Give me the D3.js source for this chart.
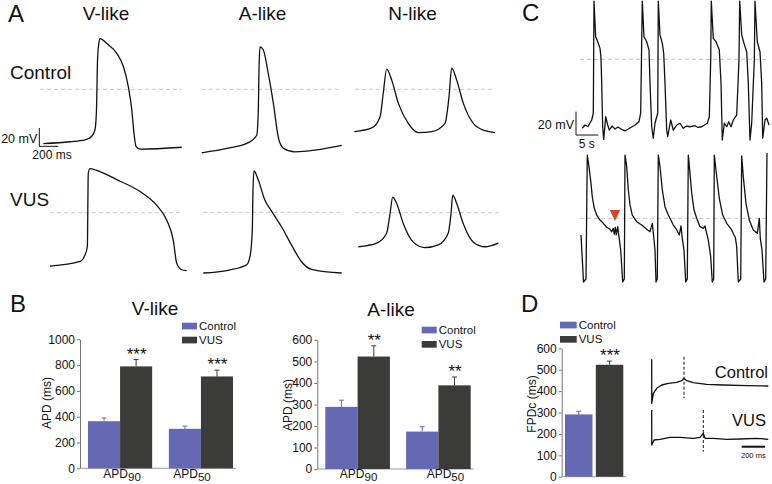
<!DOCTYPE html>
<html><head><meta charset="utf-8">
<script src="https://cdn.jsdelivr.net/npm/d3@7"></script>
<style>body{margin:0;background:#fff}svg{display:block}text{font-family:"Liberation Sans",Arial,Helvetica,sans-serif;fill:#111}</style>
</head><body><svg id="c" width="772" height="484"></svg>
<script>
// ---------------- DATA ----------------
// Panel A action potentials: [time (ms), membrane potential (mV)]
const vLikeControl = [[0,-59],[280,-57],[440,-55],[510,-51],[544,-44],[560,-22],[571,32],[586,51],[597,55],[667,50],[773,39],[842,25],[895,3],[931,-22],[955,-48],[976,-62],[1018,-65],[1457,-63]];
const vLikeVUS = [[0,-58],[316,-53],[368,-46],[393,-37],[403,43],[421,48],[492,46],[702,36],[947,23],[1123,8],[1228,-8],[1298,-30],[1334,-55],[1386,-62],[1439,-63]];
const aLikeControl = [[0,-69],[280,-64],[491,-58],[579,-50],[596,-23],[603,21],[614,46],[648,43],[701,17],[754,-15],[806,-52],[859,-64],[982,-68],[1474,-61]];
const aLikeVUS = [[0,-66],[263,-63],[457,-57],[492,-48],[516,-19],[523,24],[534,45],[579,35],[649,13],[720,1],[825,-16],[931,-36],[1036,-54],[1141,-62],[1457,-66]];
const nLikeControl = [[0,-46],[183,-42],[271,-30],[305,-4],[341,22],[394,10],[463,-15],[568,-37],[674,-47],[815,-46],[955,-37],[997,-8],[1025,23],[1078,10],[1147,-15],[1253,-37],[1376,-45],[1481,-47]];
const nLikeVUS = [[0,-37],[194,-33],[299,-22],[334,-1],[362,17],[404,10],[474,-12],[579,-32],[702,-38],[842,-35],[947,-22],[976,-1],[994,19],[1036,10],[1105,-12],[1211,-32],[1334,-37],[1474,-33]];
const apColumns = ["V-like","A-like","N-like"];
const apRows = ["Control","VUS"];

// Panel C spontaneous activity: [time (s), mV]
const cControl = [[0,-59.2],[0.61,-56.4],[1.28,-57.7],[2.11,-52.1],[2.47,-46.1],[2.62,50],[3.0,19.4],[3.59,13.7],[3.97,9.4],[4.19,1.1],[4.35,-20.3],[4.57,-57.9],[4.8,-68.7],[5.25,-49.3],[5.7,-56.4],[6.05,-60.7],[6.66,-57.3],[7.33,-59.8],[8.0,-58.1],[8.68,-59.8],[9.57,-61.5],[10.7,-59],[11.82,-56.4],[12.71,-53.6],[13.09,-46.1],[13.45,50],[13.83,19.4],[14.44,15.1],[14.96,8],[15.18,-20.3],[15.56,-57.9],[15.92,-67.8],[16.3,-54.9],[16.91,-46.1],[17.04,50],[17.42,20.9],[17.94,13.7],[18.25,5.2],[18.54,-20.3],[18.92,-60.7],[19.15,-66.4],[19.82,-52.1],[20.4,-60.7],[21.17,-56.4],[21.91,-54.9],[22.65,-59.2],[23.36,-57.3],[24.15,-57.9],[25.27,-57],[25.94,-58.5],[26.77,-57.9],[28.03,-54.9],[28.48,-49.3],[28.79,-0.6],[28.92,50],[29.37,18],[29.98,15.1],[30.72,8],[31.1,-20.3],[31.39,-69.3],[31.84,-54.9],[32.38,-57.9],[32.83,-53.6],[33.34,-57.9],[33.86,-52.1],[34.62,-47.8],[35.13,-0.6],[35.29,50],[35.74,20.9],[36.26,13.7],[36.86,6.5],[37.22,-20.3],[37.6,-69.3],[37.98,-54.9],[38.57,-0.6],[38.72,50],[39.24,15.1],[39.84,6.5],[40.22,-20.3],[40.45,-67.8],[40.96,-52.1],[41.35,-50.6],[41.87,-56.4]];
const cVUS = [[0,-14.3],[0.56,-54.7],[1.12,-52.1],[1.41,54.3],[1.79,44.3],[2.24,30],[2.53,18.5],[2.98,8.6],[3.52,2.8],[4.26,-1.5],[5.0,-4.3],[5.76,-7.7],[6.5,-9.4],[6.88,-11.5],[7.24,-8.6],[7.47,-13.7],[7.69,-7.7],[7.91,-14.3],[8.23,-7.2],[8.52,-15.8],[8.9,-27.2],[9.13,-41.5],[9.35,-54.7],[9.71,-52.1],[9.87,54.3],[10.25,44.3],[10.61,24.3],[10.99,11.4],[11.5,2.8],[12.49,-2.9],[13.61,-5.8],[14.73,-9.4],[15.47,-11.5],[15.99,-4.3],[16.3,-15.8],[16.59,-27.2],[16.82,-54.7],[17.11,-52.1],[17.33,54.3],[17.71,44.3],[18.23,24.3],[18.83,10],[19.57,2.8],[20.7,-5.8],[21.46,-10],[22.04,-14.3],[22.42,-6.6],[22.71,-17.2],[23.09,-27.2],[23.48,-54.7],[23.83,-52.1],[24.06,54.3],[24.44,38.6],[24.82,21.5],[25.34,7.1],[25.94,0],[26.68,-7.2],[27.42,-8.6],[27.8,-6.6],[28.18,-12.9],[28.54,-18.6],[29.08,-33],[29.44,-54.7],[29.75,-52.1],[29.89,54.3],[30.43,35.7],[31.01,17.2],[31.77,2.8],[32.67,-4.3],[33.79,-10],[34.3,-14.3],[34.6,-16.3],[34.91,-24.4],[35.27,-54.7],[35.81,-52.1],[36.03,53.5],[36.39,35.7],[36.99,12.9],[37.74,-1.5],[38.63,-10],[39.53,-12.9],[39.98,0],[40.2,-17.2],[40.58,-27.2],[41.03,-54.7],[41.41,-52.1],[41.7,56.1]];
const cArrow = [7.62, -2.3];   // red arrowhead (s, mV)

// Panel B bar data
const apdCats = ["APD90","APD50"];
const groups = ["Control","VUS"];
const vLikeMeans = {Control:[365,306], VUS:[790,712]};
const vLikeSEM   = {Control:[25,21],  VUS:[53,49]};
const vLikeStars = ["***","***"];
const aLikeMeans = {Control:[289,174], VUS:[523,389]};
const aLikeSEM   = {Control:[31,23],  VUS:[50,39]};
const aLikeStars = ["**","**"];
const vTicks = [0,200,400,600,800,1000];
const aTicks = [0,100,200,300,400,500,600];

// Panel D
const fpdcMeans = {Control:291, VUS:523};
const fpdcSEM   = {Control:15, VUS:17};
const fpdcStars = "***";
const dTicks = [0,100,200,300,400,500,600];
// field potentials: [time (ms), amplitude (a.u.)]
const fpControl = [[0,26.7],[0.5,-17.3],[14,-7.3],[43,-2.3],[86,1],[142,2.7],[214,3.7],[257,5.3],[277,7.7],[300,5.3],[356,3.3],[471,1.7],[614,1],[814,0.3],[999,0]];
const fpVUS = [[0,28.5],[0.5,-6.5],[20,-1.5],[71,-0.8],[157,1.2],[243,1.2],[356,0.2],[414,1.2],[442,5.2],[457,0.2],[528,0.2],[643,-0.8],[757,-0.5],[900,0.2],[999,-0.8]];
const fpdMarks = {Control:277, VUS:442};

// ---------------- DRAW ----------------
const svg = d3.select("#c");
const CTRL = "#6569b3", VUSC = "#3b3b39";

function txt(x, y, s, size, anchor, g){
  return (g||svg).append("text").attr("x",x).attr("y",y).attr("font-size",size)
    .attr("text-anchor",anchor||"start").text(s);
}
function scalesFor(x0, y0, kx, ky){
  return {x: d3.scaleLinear().domain([0,1]).range([x0, x0+kx]),
          y: d3.scaleLinear().domain([0,1]).range([y0, y0-ky])};
}
function drawTrace(data, sc, curve, dash, dashCol){
  if (dash) {
    svg.append("line").attr("x1",sc.x(dash[0])).attr("x2",sc.x(dash[1]))
      .attr("y1",sc.y(0)).attr("y2",sc.y(0))
      .attr("stroke",dashCol||"#c9c9c9").attr("stroke-width",1).attr("stroke-dasharray","4,3");
  }
  svg.append("path").datum(data)
    .attr("d", d3.line().x(d=>sc.x(d[0])).y(d=>sc.y(d[1])).curve(curve))
    .attr("fill","none").attr("stroke","#111").attr("stroke-width",1.3).attr("stroke-linejoin","round");
}

// Panel letters
[["A",8,22],["B",10,312],["C",522,21],["D",521,312]].forEach(d=>txt(d[1],d[2],d[0],24));

// ---- Panel A ----
const kxA = 0.095, kyA = 0.92;
const apTraces = [
  {d:vLikeControl, x0:43.3, y0:89.3, dash:[-35,1457]},
  {d:aLikeControl, x0:201.7, y0:89.3, dash:[0,1474]},
  {d:nLikeControl, x0:354.3, y0:89.3, dash:[7,1463]},
  {d:vLikeVUS, x0:50, y0:212.7, dash:[0,1386]},
  {d:aLikeVUS, x0:203.3, y0:212.3, dash:[0,1474]},
  {d:nLikeVUS, x0:358.3, y0:212.7, dash:[-35,1474]}
];
let vCtrlScale;
apTraces.forEach((t,i)=>{
  const sc = scalesFor(t.x0, t.y0, kxA, kyA);
  if (i===0) vCtrlScale = sc;
  drawTrace(t.d, sc, d3.curveMonotoneX, t.dash);
});
[106,262.5,412.5].forEach((x,i)=>txt(x,20,apColumns[i],19,"middle"));
txt(10,79,apRows[0],19); txt(10,205.7,apRows[1],19);
// scale bar 20 mV / 200 ms
{
  const s = vCtrlScale, tx=-42, vy=-62;
  svg.append("path").attr("d",`M${s.x(tx)},${s.y(vy+20)}V${s.y(vy)}H${s.x(tx+200)}`)
    .attr("fill","none").attr("stroke","#111").attr("stroke-width",1);
  txt(s.x(tx)-2, s.y(vy)-3, "20 mV", 12.5, "end");
  txt(s.x(tx)-7, s.y(vy)+12.7, "200 ms", 12);
}

// ---- Panel C ----
const kxC = 4.46, kyC = 1.165;
const scTop = scalesFor(582.3, 59.3, kxC, kyC);
const scBot = scalesFor(581, 218.3, kxC, kyC);
drawTrace(cControl, scTop, d3.curveLinear, [-0.5,41.7], "#c4c4c4");
drawTrace(cVUS, scBot, d3.curveLinear, [-0.2,41.9], "#c4c4c4");
{
  const tx=-1.41, vy=-65;
  svg.append("path").attr("d",`M${scTop.x(tx)},${scTop.y(vy+20)}V${scTop.y(vy)}H${scTop.x(tx+5)}`)
    .attr("fill","none").attr("stroke","#111").attr("stroke-width",1);
  txt(scTop.x(tx)-2, scTop.y(vy)-6.5, "20 mV", 12.5, "end");
  txt(scTop.x(tx+2.4), scTop.y(vy)+13.3, "5 s", 12, "middle");
  const ax = scBot.x(cArrow[0]), ay = scBot.y(cArrow[1]);
  svg.append("path").attr("d",`M${ax},${ay}L${ax-5.2},${ay-11}L${ax+5.2},${ay-11}Z`).attr("fill","#d8432c");
}

// ---- Bar charts ----
function barChart(o){
  const g = svg.append("g");
  const y = d3.scaleLinear().domain([0,o.ticks[o.ticks.length-1]]).range(o.yRange);
  const x0 = d3.scaleBand().domain(o.cats).range(o.xRange).paddingInner(o.padInner).paddingOuter(0);
  const x1 = d3.scaleBand().domain(groups).range([0,x0.bandwidth()]).paddingInner(o.padSeries||0);
  const ax = g.append("g").attr("transform",`translate(${o.axisX},0)`)
    .call(d3.axisLeft(y).tickValues(o.ticks).tickFormat(d3.format("d")).tickSize(3).tickSizeOuter(0).tickPadding(2));
  ax.select(".domain").attr("stroke","#777");
  ax.selectAll(".tick line").attr("stroke","#777");
  ax.selectAll(".tick text").attr("font-size",12).attr("fill","#222")
    .attr("font-family",'"Liberation Sans",Arial,sans-serif');
  g.append("line").attr("x1",o.axisX).attr("x2",o.xRange[1]+3).attr("y1",y(0)).attr("y2",y(0))
    .attr("stroke","#999").attr("stroke-width",1);
  o.cats.forEach((c,ci)=>{
    groups.forEach(s=>{
      const m = o.means[s][ci], e = o.sem[s][ci];
      const bx = x0(c)+x1(s), bw = x1.bandwidth();
      const col = s==="Control"?CTRL:VUSC;
      g.append("rect").attr("x",bx).attr("y",y(m)).attr("width",bw).attr("height",y(0)-y(m)).attr("fill",col);
      const cx = bx+bw/2;
      g.append("path").attr("d",`M${cx},${y(m)}V${y(m+e)}M${cx-2.5},${y(m+e)}H${cx+2.5}`)
        .attr("stroke",col).attr("stroke-width",1).attr("fill","none");
      if (s==="VUS" && o.stars) txt(cx+0.5, y(m+e), o.stars[ci], 17, "middle", g);
    });
    if (o.catLabel) {
      const t = g.append("text").attr("x",x0(c)+x0.bandwidth()/2+(o.labelDx?o.labelDx[ci]:0))
        .attr("y",o.labelY).attr("font-size",12).attr("text-anchor","middle");
      t.append("tspan").text(c.slice(0,3));
      t.append("tspan").attr("dy",3).attr("font-size",11.5).text(c.slice(3));
    }
  });
  // y label
  g.append("text").attr("transform",`translate(${o.yLabelX},${o.yLabelY}) rotate(-90)`)
    .attr("font-size",12).attr("text-anchor","middle").text(o.yLabel);
  // legend
  groups.forEach((s,i)=>{
    g.append("rect").attr("x",o.leg[0]).attr("y",o.leg[1]+i*o.leg[4]).attr("width",o.leg[2]).attr("height",o.leg[3])
      .attr("fill",s==="Control"?CTRL:VUSC);
    txt(o.leg[0]+o.leg[2]+2, o.leg[1]+i*o.leg[4]+o.leg[3]+0.5, s, 11.5, "start", g);
  });
  if (o.title) txt(o.title[1], o.title[2], o.title[0], 19, "middle", g);
  return {x0,x1,y};
}

barChart({cats:apdCats, means:vLikeMeans, sem:vLikeSEM, stars:vLikeStars, ticks:vTicks,
  yRange:[468.3,339.3], xRange:[88,233], padInner:0.207, axisX:80, catLabel:true, labelY:477.5,
  labelDx:[2,-9],
  yLabel:"APD (ms)", yLabelX:51, yLabelY:403, leg:[182,322.7,15,6.7,14], title:["V-like",155,315]});
barChart({cats:apdCats, means:aLikeMeans, sem:aLikeSEM, stars:aLikeStars, ticks:aTicks,
  yRange:[469,340], xRange:[325.3,470.7], padInner:0.2, axisX:317.3, catLabel:true, labelY:477.5,
  labelDx:[1,7],
  yLabel:"APD (ms)", yLabelX:292, yLabelY:405, leg:[421.7,326.7,15,6.7,14.3], title:["A-like",391,316]});

// ---- Panel D bar ----
barChart({cats:["FPDc"], means:{Control:[fpdcMeans.Control],VUS:[fpdcMeans.VUS]},
  sem:{Control:[fpdcSEM.Control],VUS:[fpdcSEM.VUS]}, stars:[fpdcStars], ticks:dTicks,
  yRange:[476.7,348.3], xRange:[565,623.3], padInner:0, padSeries:0.107, axisX:561.7, catLabel:false,
  yLabel:"FPDc (ms)", yLabelX:536, yLabelY:404, leg:[560,321.7,16.7,6.7,14.3]});

// ---- Panel D field potentials ----
const kxD = 0.1167, kyD = 1;
const fpScales = {Control: scalesFor(651.7, 386, kxD, kyD), VUS: scalesFor(651.7, 438.5, kxD, kyD)};
drawTrace(fpControl, fpScales.Control, d3.curveLinear);
drawTrace(fpVUS, fpScales.VUS, d3.curveLinear);
[["Control",29.3,-12.3],["VUS",28.5,-13.2]].forEach(([k,a,b])=>{
  const s = fpScales[k];
  svg.append("line").attr("x1",s.x(fpdMarks[k])).attr("x2",s.x(fpdMarks[k]))
    .attr("y1",s.y(a)).attr("y2",s.y(b)).attr("stroke","#111").attr("stroke-width",1).attr("stroke-dasharray","3,2");
});
txt(768,377.7,"Control",16.5,"end");
txt(766,426,"VUS",16.5,"end");
{
  const s = fpScales.VUS;
  svg.append("line").attr("x1",s.x(771)).attr("x2",s.x(971)).attr("y1",s.y(-8.2)).attr("y2",s.y(-8.2))
    .attr("stroke","#111").attr("stroke-width",2);
  txt(s.x(871), s.y(-19.8), "200 ms", 7.5, "middle");
}
</script></body></html>
